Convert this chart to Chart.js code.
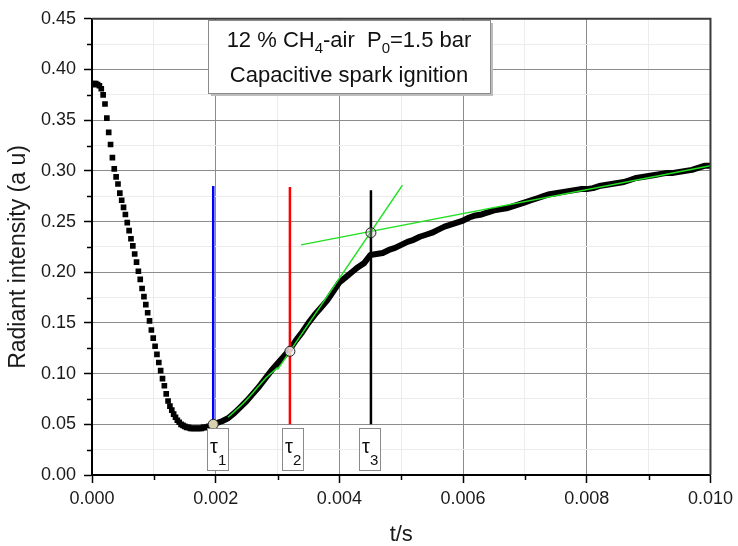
<!DOCTYPE html>
<html>
<head>
<meta charset="utf-8">
<script src="https://cdn.jsdelivr.net/npm/chart.js@4.4.1/dist/chart.umd.min.js"></script>
<style>
  html, body { margin: 0; padding: 0; background: #fff; }
</style>
</head>
<body>
<canvas id="chart" width="738" height="546"></canvas>
<script>
// fall of the emission right after the spark (square markers), t in s
const descentT = [
  0.00000, 0.00003, 0.00006, 0.00009, 0.00012, 0.00015, 0.00018, 0.00021, 0.00024, 0.00027,
  0.00030, 0.00033, 0.00036, 0.00039, 0.00042, 0.00045, 0.00048, 0.00051, 0.00054, 0.00057,
  0.00060, 0.00063, 0.00066, 0.00069, 0.00072, 0.00075, 0.00078, 0.00081, 0.00084, 0.00087,
  0.00090, 0.00093, 0.00096, 0.00099, 0.00102, 0.00105, 0.00108, 0.00111, 0.00114, 0.00117,
  0.00120, 0.00123, 0.00126, 0.00129, 0.00132, 0.00135, 0.00138, 0.00141, 0.00144, 0.00147,
  0.00150, 0.00153, 0.00156, 0.00159, 0.00162, 0.00165, 0.00168, 0.00171, 0.00174, 0.00177,
  0.00180, 0.00183, 0.00186, 0.00189, 0.00192, 0.00195, 0.00198
];
const descentV = [
  0.385, 0.386, 0.386, 0.385, 0.384, 0.381, 0.375, 0.366, 0.352, 0.338,
  0.326, 0.313, 0.302, 0.294, 0.287, 0.278, 0.271, 0.264, 0.257, 0.249,
  0.241, 0.233, 0.226, 0.218, 0.210, 0.201, 0.193, 0.184, 0.176, 0.168,
  0.160, 0.152, 0.143, 0.135, 0.127, 0.119, 0.111, 0.103, 0.095, 0.088,
  0.080, 0.073, 0.068, 0.064, 0.060, 0.057, 0.054, 0.052, 0.050, 0.049,
  0.048, 0.047, 0.047, 0.046, 0.046, 0.046, 0.046, 0.046, 0.046, 0.046,
  0.047, 0.047, 0.047, 0.048, 0.048, 0.049, 0.050
];

// rise of the emission (dense markers merge into a thick line)
const riseT = [
  0.0020, 0.0021, 0.0022, 0.0023, 0.0024, 0.0025, 0.0026, 0.0027, 0.0028, 0.0029,
  0.0030, 0.0031, 0.0032, 0.0033, 0.0034, 0.0035, 0.0036, 0.0037, 0.0038, 0.0039,
  0.0040, 0.0041, 0.0042, 0.0043, 0.0044, 0.0045, 0.0046, 0.0047, 0.0048, 0.0049,
  0.0050, 0.0051, 0.0052, 0.0053, 0.0054, 0.0055, 0.0056, 0.0057, 0.0058, 0.0059,
  0.0060, 0.0061, 0.0062, 0.0063, 0.0064, 0.0065, 0.0066, 0.0067, 0.0068, 0.0069,
  0.0070, 0.0071, 0.0072, 0.0073, 0.0074, 0.0075, 0.0076, 0.0077, 0.0078, 0.0079,
  0.0080, 0.0081, 0.0082, 0.0083, 0.0084, 0.0085, 0.0086, 0.0087, 0.0088, 0.0089,
  0.0090, 0.0091, 0.0092, 0.0093, 0.0094, 0.0095, 0.0096, 0.0097, 0.0098, 0.0099,
  0.0100
];
const riseV = [
  0.051, 0.053, 0.056, 0.061, 0.067, 0.073, 0.080, 0.087, 0.095, 0.103,
  0.110, 0.117, 0.124, 0.133, 0.141, 0.150, 0.158, 0.165, 0.172, 0.181,
  0.190, 0.195, 0.200, 0.205, 0.209, 0.217, 0.218, 0.219, 0.222, 0.224,
  0.227, 0.230, 0.232, 0.235, 0.237, 0.239, 0.242, 0.245, 0.247, 0.249,
  0.251, 0.254, 0.256, 0.257, 0.259, 0.261, 0.262, 0.263, 0.265, 0.267,
  0.269, 0.271, 0.273, 0.275, 0.277, 0.278, 0.279, 0.280, 0.281, 0.282,
  0.282, 0.283, 0.285, 0.286, 0.287, 0.288, 0.289, 0.291, 0.293, 0.294,
  0.295, 0.296, 0.297, 0.298, 0.298, 0.299, 0.300, 0.301, 0.303, 0.305,
  0.305
];

// green fit at the start of the rise and the two tangents
const fitT = [0.0022, 0.0024, 0.0026, 0.0028, 0.0030];
const fitV = [0.057, 0.068, 0.081, 0.095, 0.106];
const steepT = [0.0030, 0.00502];
const steepV = [0.104, 0.286];
const shallowT = [0.00338, 0.0100];
const shallowV = [0.227, 0.305];

// characteristic times
const tauNames = ['1', '2', '3'];
const tauT = [0.00196, 0.00320, 0.00451];
const tauV = [0.050, 0.122, 0.239];
const tauTop = [0.285, 0.284, 0.281];
const tauBottom = 0.050;
const tauLabelT = [0.00202, 0.00323, 0.00448];

const xTicks = [0, 0.002, 0.004, 0.006, 0.008, 0.010];
const yTicks = [0, 0.05, 0.10, 0.15, 0.20, 0.25, 0.30, 0.35, 0.40, 0.45];

const FONT = '"Liberation Sans", Arial, sans-serif';
const GREEN = '#22e022';

const pts = (ts, vs) => ts.map((t, i) => ({ x: t, y: vs[i] }));
const isMajorX = v => Math.round(v / 0.001) % 2 === 0;
const isMajorY = v => Math.round(v / 0.025) % 2 === 0;

function vline(i, color) {
  return {
    data: [{ x: tauT[i], y: tauBottom }, { x: tauT[i], y: tauTop[i] }],
    showLine: true, borderColor: color, borderWidth: 2.5, pointRadius: 0
  };
}

const decor = {
  id: 'decor',
  afterDraw(chart) {
    const { ctx, chartArea: a, scales: { x, y } } = chart;
    ctx.save();

    // minor ticks
    ctx.strokeStyle = '#000';
    ctx.lineWidth = 1.5;
    for (let k = 1; k < 10; k += 2) {
      const px = Math.round(x.getPixelForValue(k * 0.001)) + 0.5;
      ctx.beginPath(); ctx.moveTo(px, a.bottom); ctx.lineTo(px, a.bottom + 5); ctx.stroke();
    }
    for (let k = 1; k < 18; k += 2) {
      const py = Math.round(y.getPixelForValue(k * 0.025)) + 0.5;
      ctx.beginPath(); ctx.moveTo(a.left - 5, py); ctx.lineTo(a.left, py); ctx.stroke();
    }

    // top and right frame
    ctx.strokeStyle = '#3a3a3a';
    ctx.lineWidth = 2;
    ctx.beginPath();
    ctx.moveTo(a.left, a.top); ctx.lineTo(a.right, a.top); ctx.lineTo(a.right, a.bottom);
    ctx.stroke();

    // y axis title, sitting a little below the axis middle as in the original
    ctx.fillStyle = '#1a1a1a';
    ctx.font = '23px ' + FONT;
    ctx.textAlign = 'center';
    ctx.textBaseline = 'middle';
    ctx.translate(19, 257);
    ctx.rotate(-Math.PI / 2);
    ctx.fillText('Radiant intensity (a u)', 0, 0);
    ctx.setTransform(1, 0, 0, 1, 0, 0);

    // title box
    const bx = 208, by = 20, bw = 282, bh = 73;
    ctx.fillStyle = '#bdbdbd';
    ctx.fillRect(bx + 3, by + 3, bw, bh);
    ctx.fillStyle = '#fff';
    ctx.fillRect(bx, by, bw, bh);
    ctx.strokeStyle = '#8a8a8a';
    ctx.lineWidth = 1;
    ctx.strokeRect(bx + 0.5, by + 0.5, bw, bh);

    ctx.fillStyle = '#111';
    ctx.textBaseline = 'alphabetic';
    ctx.textAlign = 'left';
    const parts = [['12 % CH', 0], ['4', 1], ['-air  P', 0], ['0', 1], ['=1.5 bar', 0]];
    const big = '22px ' + FONT, small = '15px ' + FONT;
    let w = 0;
    parts.forEach(([s, sub]) => { ctx.font = sub ? small : big; w += ctx.measureText(s).width; });
    let cx = bx + bw / 2 - w / 2;
    parts.forEach(([s, sub]) => {
      ctx.font = sub ? small : big;
      ctx.fillText(s, cx, by + 27 + (sub ? 6 : 0));
      cx += ctx.measureText(s).width;
    });
    ctx.font = big;
    ctx.textAlign = 'center';
    ctx.fillText('Capacitive spark ignition', bx + bw / 2, by + 62);

    // tau label boxes
    const top = y.getPixelForValue(0.046), bot = y.getPixelForValue(0.005);
    tauLabelT.forEach((t, i) => {
      const c = Math.round(x.getPixelForValue(t));
      ctx.fillStyle = '#fff';
      ctx.fillRect(c - 10, top, 21, bot - top);
      ctx.strokeStyle = '#8a8a8a';
      ctx.lineWidth = 1;
      ctx.strokeRect(c - 10 + 0.5, Math.round(top) + 0.5, 21, Math.round(bot - top));
      ctx.fillStyle = '#111';
      ctx.textAlign = 'left';
      ctx.font = '20px ' + FONT;
      ctx.fillText('\u03c4', c - 7, top + 25);
      ctx.font = '15px ' + FONT;
      ctx.fillText(tauNames[i], c + 1, top + 37);
    });

    ctx.restore();
  }
};

new Chart(document.getElementById('chart'), {
  type: 'scatter',
  data: {
    datasets: [
      {
        data: pts(tauT, tauV), showLine: false, pointRadius: 5, pointHoverRadius: 5,
        pointBorderColor: '#222', pointBorderWidth: 1,
        pointBackgroundColor: ['#d6d2ae', 'rgba(240,240,240,0.8)', 'rgba(200,200,200,0.35)']
      },
      vline(0, '#0000ff'),
      vline(1, '#ff0000'),
      vline(2, '#000000'),
      { data: pts(steepT, steepV), showLine: true, borderColor: GREEN, borderWidth: 1.5, pointRadius: 0 },
      { data: pts(shallowT, shallowV), showLine: true, borderColor: GREEN, borderWidth: 1.5, pointRadius: 0 },
      { data: pts(fitT, fitV), showLine: true, borderColor: GREEN, borderWidth: 1.5, pointRadius: 0, tension: 0.3 },
      {
        data: pts(riseT, riseV), showLine: true, borderColor: '#000', borderWidth: 6,
        borderJoinStyle: 'round', borderCapStyle: 'round', pointRadius: 0
      },
      {
        data: pts(descentT, descentV), showLine: false, pointStyle: 'rect',
        pointRadius: 4, pointBackgroundColor: '#000', pointBorderWidth: 0
      }
    ]
  },
  options: {
    responsive: false,
    animation: false,
    devicePixelRatio: 1,
    layout: { padding: { top: 15, right: 26, left: 0, bottom: 0 } },
    plugins: { legend: { display: false }, tooltip: { enabled: false } },
    scales: {
      x: {
        type: 'linear', min: 0, max: 0.01,
        afterFit: s => { s.height = 71; },
        afterBuildTicks: s => { s.ticks = []; for (let k = 0; k <= 10; k++) s.ticks.push({ value: k * 0.001 }); },
        ticks: {
          autoSkip: false, maxRotation: 0, padding: 5, color: '#1a1a1a',
          font: { family: FONT, size: 18 },
          callback: v => (isMajorX(v) && xTicks.some(t => Math.abs(t - v) < 1e-9)) ? v.toFixed(3) : ''
        },
        grid: {
          color: c => isMajorX(c.tick.value) ? '#8c8c8c' : '#ececec',
          lineWidth: 1, tickLength: 8, tickWidth: 1.5,
          tickColor: c => isMajorX(c.tick.value) ? '#000' : 'rgba(0,0,0,0)'
        },
        border: { color: '#000', width: 2 },
        title: {
          display: true, text: 't/s', color: '#1a1a1a',
          font: { family: FONT, size: 22, lineHeight: 1 }, padding: { top: 0, bottom: 0 }
        }
      },
      y: {
        type: 'linear', min: 0, max: 0.45,
        afterFit: s => { s.width = 92; },
        afterBuildTicks: s => { s.ticks = []; for (let k = 0; k <= 18; k++) s.ticks.push({ value: k * 0.025 }); },
        ticks: {
          autoSkip: false, padding: 8, color: '#1a1a1a',
          font: { family: FONT, size: 18 },
          callback: v => (isMajorY(v) && yTicks.some(t => Math.abs(t - v) < 1e-9)) ? v.toFixed(2) : ''
        },
        grid: {
          color: c => isMajorY(c.tick.value) ? '#8c8c8c' : '#ececec',
          lineWidth: 1, tickLength: 8, tickWidth: 1.5,
          tickColor: c => isMajorY(c.tick.value) ? '#000' : 'rgba(0,0,0,0)'
        },
        border: { color: '#000', width: 2 }
      }
    }
  },
  plugins: [decor]
});
</script>
</body>
</html>
